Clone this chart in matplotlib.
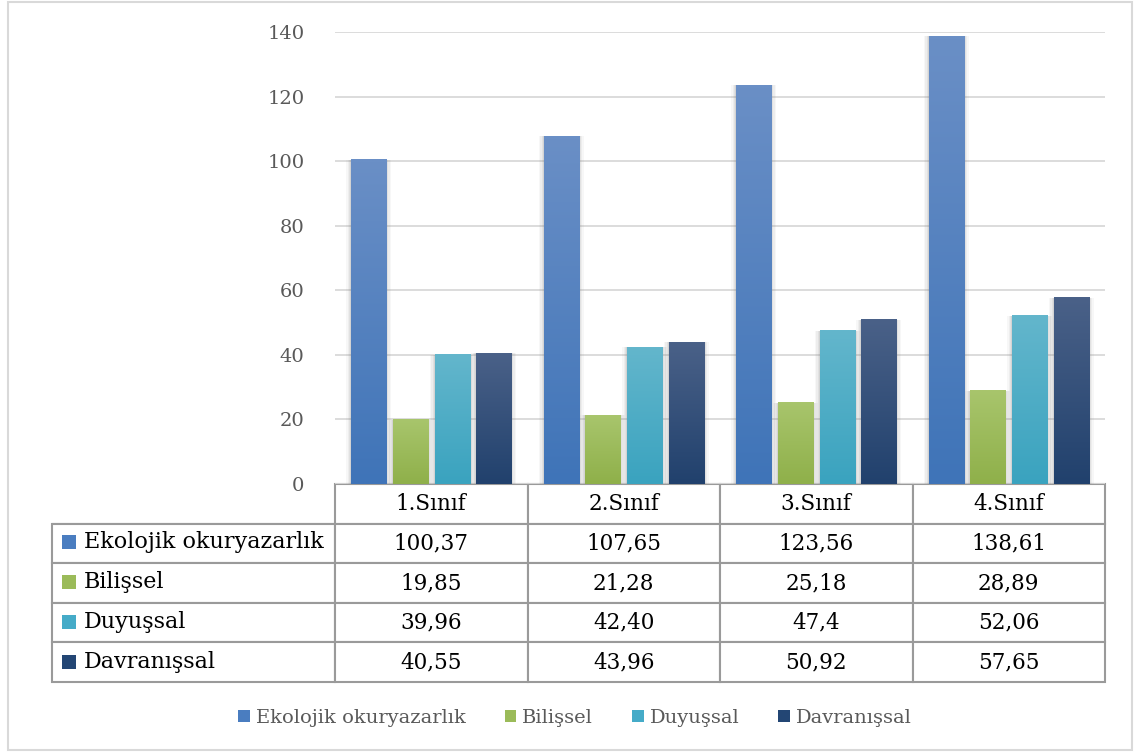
import matplotlib
matplotlib.use("Agg")
import matplotlib.pyplot as plt
from matplotlib.patches import Rectangle, Patch
from matplotlib.colors import to_rgb
import numpy as np

categories = ["1.Sınıf", "2.Sınıf", "3.Sınıf", "4.Sınıf"]
series_names = ["Ekolojik okuryazarlık", "Bilişsel", "Duyuşsal", "Davranışsal"]
ekolojik = [100.37, 107.65, 123.56, 138.61]
bilissel = [19.85, 21.28, 25.18, 28.89]
duyussal = [39.96, 42.40, 47.4, 52.06]
davranissal = [40.55, 43.96, 50.92, 57.65]
table_labels = [["100,37", "107,65", "123,56", "138,61"],
                ["19,85", "21,28", "25,18", "28,89"],
                ["39,96", "42,40", "47,4", "52,06"],
                ["40,55", "43,96", "50,92", "57,65"]]
yticks = [0, 20, 40, 60, 80, 100, 120, 140]

colors = ["#4a7dc0", "#9bbb59", "#45abc8", "#234674"]
top_colors = ["#6a8fc6", "#a8c56c", "#63b6cc", "#4a6188"]
bottom_colors = ["#3f74b8", "#8fb04a", "#3aa3bf", "#21416d"]
series = [ekolojik, bilissel, duyussal, davranissal]

plt.rcParams['font.family'] = ['DejaVu Serif']

W, H = 1136, 755
fig = plt.figure(figsize=(W / 100, H / 100), dpi=100)
fig.patches.append(Rectangle((8 / W, 1 - 750 / H), 1124 / W, 748 / H,
                             transform=fig.transFigure, fill=False,
                             edgecolor="#d9d9d9", linewidth=1.5))

L, R, T, B = 335, 1105, 32, 484
ax = fig.add_axes([L / W, 1 - B / H, (R - L) / W, (B - T) / H])
for s in ax.spines.values():
    s.set_visible(False)
ax.set_yticks(yticks)
ax.set_yticklabels([str(v) for v in yticks], fontsize=14, color="#595959")
ax.tick_params(axis="y", length=0, pad=22)
ax.set_xticks([])
ax.grid(axis="y", color="#d9d9d9", linewidth=1.3)
ax.set_axisbelow(True)

x = np.arange(len(categories)) + 0.5
width = 0.182
step = 0.216
px = 4 / (R - L)  # data units per pixel in x
for k, vals in enumerate(series):
    pos = x + (k - 1.5) * step
    # soft shadow
    for extra, a in [(10, 0.06), (7, 0.08), (4, 0.10), (2, 0.14)]:
        ax.bar(pos, vals, width + extra * px, color="#7f7f7f", alpha=a,
               linewidth=0, zorder=2)
    bars = ax.bar(pos, vals, width, color=colors[k], linewidth=0, zorder=3)
    c_top = np.array(to_rgb(top_colors[k]))
    c_bot = np.array(to_rgb(bottom_colors[k]))
    t = np.linspace(0, 1, 64)[:, None]
    grad = (c_top * (1 - t) + c_bot * t)[:, None, :]
    for b in bars:
        bx, bw, bh = b.get_x(), b.get_width(), b.get_height()
        ax.imshow(grad, extent=[bx, bx + bw, 0, bh], aspect="auto",
                  interpolation="bilinear", zorder=3.5)
ax.set_xlim(0, 4)
ax.set_ylim(0, 140)

# table
row_h_px = [38, 40, 40, 40, 40]
total_h = sum(row_h_px)
tab_left = 52
col_w_px = [L - tab_left] + [(R - L) / 4] * 4
cell_text = [[""] + categories] + [[""] + row for row in table_labels]
tbl = ax.table(cellText=cell_text,
               colWidths=[w / (R - tab_left) for w in col_w_px],
               bbox=[(tab_left - L) / (R - L), -total_h / (B - T),
                     (R - tab_left) / (R - L), total_h / (B - T)],
               cellLoc="center")
tbl.auto_set_font_size(False)
for (r, c), cell in tbl.get_celld().items():
    cell.set_edgecolor("#9a9a9a")
    cell.set_linewidth(1.5)
    cell.get_text().set_fontsize(15.5)
    cell.get_text().set_color("black")
    if r == 0 and c == 0:
        cell.visible_edges = "B"

cum = row_h_px[0]
for i, (name, c) in enumerate(zip(series_names, colors)):
    yc = -(cum + row_h_px[i + 1] / 2) / (B - T) * 140
    cum += row_h_px[i + 1]
    ax.add_patch(Rectangle(((62 - L) * px, yc - 7 / (B - T) * 140),
                           14 * px, 14 / (B - T) * 140,
                           facecolor=c, edgecolor="none", clip_on=False))
    ax.text((84 - L) * px, yc, name, fontsize=16, color="black",
            ha="left", va="center", clip_on=False)

handles = [Patch(facecolor=c, edgecolor="none") for c in colors]
fig.legend(handles, series_names, loc="center", bbox_to_anchor=(575 / W, 1 - 718 / H),
           ncol=4, frameon=False, fontsize=14, handlelength=0.6, handleheight=0.6,
           handletextpad=0.3, columnspacing=2.0, labelcolor="#595959")

fig.savefig("out.png", dpi=100)
